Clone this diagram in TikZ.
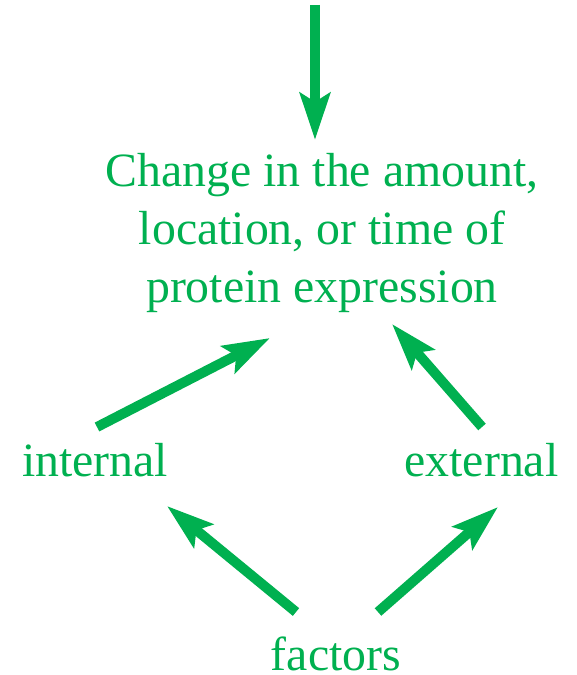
\documentclass[tikz,border=0pt]{standalone}
\usepackage{fontspec}
\setmainfont{Liberation Serif}
\usepackage{tikz}
\usetikzlibrary{arrows.meta}
\definecolor{leafgreen}{HTML}{00B050}

\begin{document}
\begin{tikzpicture}[
    x=0.02cm, y=-0.02cm,
    % styles
    label/.style = {text=leafgreen, inner sep=0pt, anchor=base,
                    font=\fontsize{27.2}{32.9}\selectfont},
    push/.style  = {draw=leafgreen, line width=5.67pt,
                    -{Stealth[length=26.6pt, width=17pt, inset=5pt]}},
]
\useasboundingbox (0,0) rectangle (577,675);

% -- nodes --
\node[label, align=center] (change) at (322,302)
    {Change in the amount,\\location, or time of\\protein expression};
\node[label] (internal) at (95,476)  {internal};
\node[label] (external) at (481.5,476) {external};
\node[label] (factors)  at (336,670) {factors};
\coordinate (src) at (315,5);

% -- arrows --
\draw[push] (src) -- ([shift={(-7,-162)}]change.base);
\draw[push] ([shift={(2,-49)}]internal.base) -- ([shift={(-52,36)}]change.base);
\draw[push] ([shift={(0.5,-49)}]external.base) -- ([shift={(70,22)}]change.base);
\draw[push] ([shift={(-40,-58)}]factors.base) -- ([shift={(72,30)}]internal.base);
\draw[push] ([shift={(42,-58)}]factors.base) -- ([shift={(16.5,31)}]external.base);

\end{tikzpicture}
\end{document}
